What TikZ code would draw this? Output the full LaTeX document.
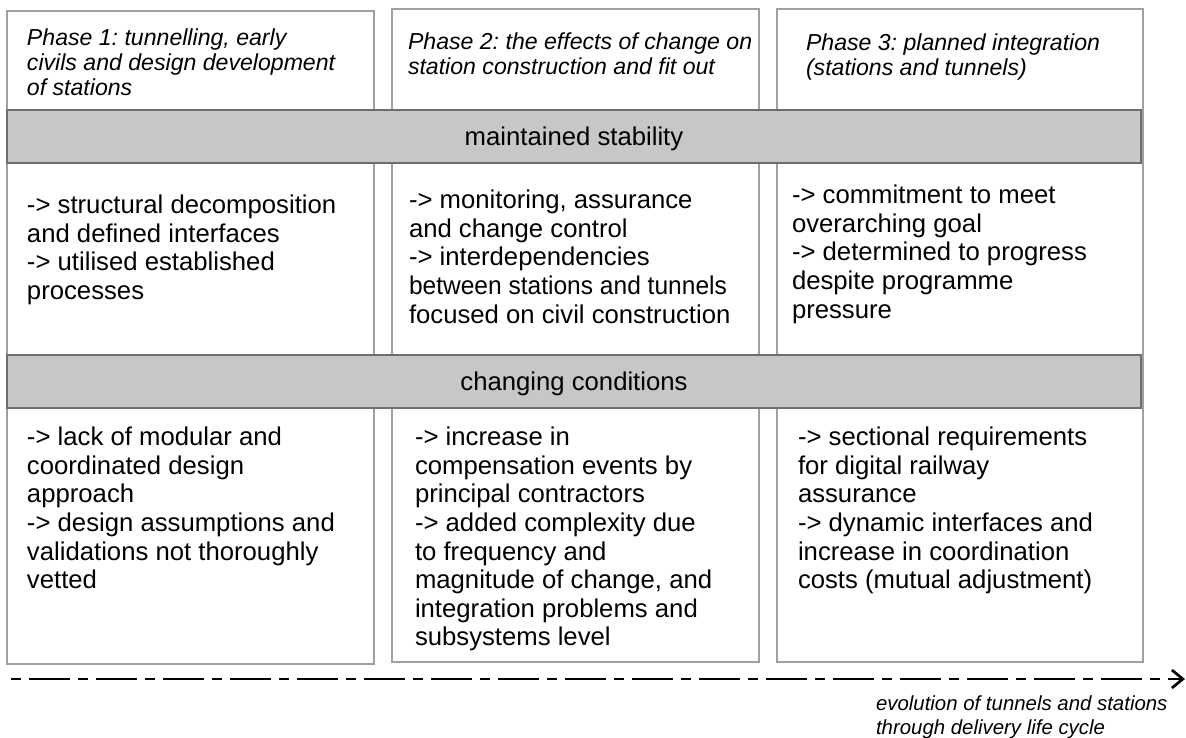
\documentclass[tikz,border=0pt]{standalone}
\usepackage{fontspec}
\setmainfont{Liberation Sans}
\frenchspacing
\usetikzlibrary{arrows.meta}
\definecolor{boxgray}{HTML}{A0A0A0}
\definecolor{bargray}{HTML}{6E6E6E}
\definecolor{barfill}{HTML}{C7C7C7}
\tikzset{
    every node/.style={font=\fontsize{25.7}{28.6}\selectfont, inner sep=0, outer sep=0},
    colbox/.style={draw=boxgray, line width=2pt},
    bar/.style={draw=bargray, fill=barfill, line width=2pt, minimum width=1134pt, minimum height=53pt, text depth=0pt},
    phase/.style={anchor=north west, align=left, font=\itshape\fontsize{23.1}{25}\selectfont},
    item/.style={anchor=north west, align=left},
}

\begin{document}
\begin{tikzpicture}[x=1pt, y=-1pt]
    \useasboundingbox (0,0) rectangle (1186,738);

    % the three phase columns
    \foreach \l/\t/\r/\b in {7/11/374/664, 392/9/759/662, 777/9/1143/662}{
        \draw [colbox] (\l,\t) rectangle (\r,\b);
    }

    \node [phase] (ph1) at (27,29) {Phase 1: tunnelling, early\\civils and design development\\of stations};
    \node [phase] (ph2) at (408,33) {Phase 2: the effects of change on\\station construction and fit out};
    \node [phase] (ph3) at (806,34) {Phase 3: planned integration\\(stations and tunnels)};

    \node [bar] (stab) at (574,136.5) {maintained stability};

    \node [item] (st1) at (27,195) {-> structural decomposition\\and defined interfaces\\-> utilised established\\processes};
    \node [item] (st2) at (409,190) {-> monitoring, assurance\\and change control\\-> interdependencies\\\scalebox{0.955}[1]{between stations and tunnels}\\focused on civil construction};
    \node [item] (st3) at (792,185) {-> commitment to meet\\overarching goal\\-> determined to progress\\despite programme\\pressure};

    \node [bar] (chg) at (574,381.5) {changing conditions};

    \node [item] (ch1) at (27,427) {-> lack of modular and\\coordinated design\\approach\\-> design assumptions and\\validations not thoroughly\\vetted};
    \node [item] (ch2) at (415,427) {-> increase in\\compensation events by\\principal contractors\\-> added complexity due\\to frequency and\\magnitude of change, and\\integration problems and\\subsystems level};
    \node [item] (ch3) at (798,427) {-> sectional requirements\\for digital railway\\assurance\\-> dynamic interfaces and\\increase in coordination\\costs (mutual adjustment)};

    % life cycle axis
    \coordinate (t0) at (11,679);
    \coordinate (t1) at (1185,679);
    \draw [line width=2.7pt, dash pattern=on 10pt off 8pt on 41pt off 8pt, -{Straight Barb[length=11pt,width=18pt]}] (t0) -- (t1);
    \node [phase, font=\itshape\fontsize{20.4}{24}\selectfont] (evo) at (876,696) {evolution of tunnels and stations\\through delivery life cycle};
\end{tikzpicture}
\end{document}
